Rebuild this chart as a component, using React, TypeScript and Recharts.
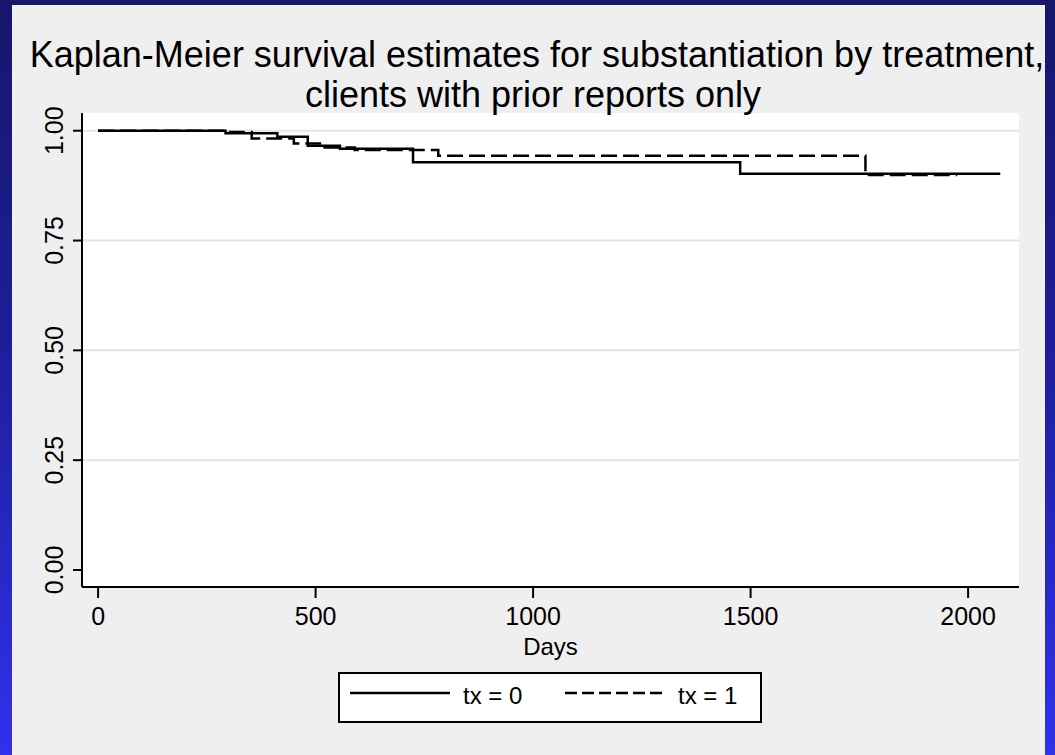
import React from 'react';
import { LineChart, Line, XAxis, YAxis, CartesianGrid, Legend } from 'recharts';

// Kaplan-Meier step points (time in days, survival probability)
const tx0Times = [0, 293, 412, 482, 556, 724, 1476, 2074];
const tx0Surv = [1.0, 0.994, 0.986, 0.966, 0.959, 0.928, 0.902, 0.902];
const tx1Times = [0, 296, 353, 450, 510, 590, 782, 1764, 1975];
const tx1Surv = [1.0, 0.997, 0.982, 0.971, 0.962, 0.956, 0.943, 0.899, 0.899];

const xTicks = [0, 500, 1000, 1500, 2000];
const yTicks = [0, 0.25, 0.5, 0.75, 1];
const gridValues = [0.25, 0.5, 0.75, 1];
const titleLines = [
  'Kaplan-Meier survival estimates for substantiation by treatment,',
  'clients with prior reports only',
];
const xLabel = 'Days';
const seriesNames = ['tx = 0', 'tx = 1'];

const tx0Data = tx0Times.map((t, i) => ({ t, s: tx0Surv[i] }));
const tx1Data = tx1Times.map((t, i) => ({ t, s: tx1Surv[i] }));

const FONT = '"Liberation Sans", Arial, Helvetica, sans-serif';

const YTick = (props: any) => {
  const { x, y, payload } = props;
  return (
    <text
      x={x}
      y={y}
      transform={`rotate(-90, ${x}, ${y})`}
      textAnchor="middle"
      fontFamily={FONT}
      fontSize={25}
      fill="#000"
    >
      {Number(payload.value).toFixed(2)}
    </text>
  );
};

const XTick = (props: any) => {
  const { x, y, payload } = props;
  return (
    <text x={x} y={y} dy="0.71em" textAnchor="middle" fontFamily={FONT} fontSize={25} fill="#000">
      {payload.value}
    </text>
  );
};

const XLabel = (props: any) => {
  const { viewBox } = props;
  const cx = viewBox.x + viewBox.width / 2;
  return (
    <text x={cx} y={viewBox.y + 68} textAnchor="middle" fontFamily={FONT} fontSize={24} fill="#000">
      {xLabel}
    </text>
  );
};

const LegendBox = () => (
  <div
    style={{
      width: 424,
      height: 51,
      boxSizing: 'border-box',
      border: '2px solid #000',
      background: '#fff',
    }}
  >
    <svg width={420} height={47} style={{ display: 'block' }}>
      <line x1={10} x2={110} y1={19} y2={19} stroke="#000" strokeWidth={2.5} />
      <text x={123} y={30} fontFamily={FONT} fontSize={24} fill="#000">
        {seriesNames[0]}
      </text>
      <line x1={225} x2={323} y1={19} y2={19} stroke="#000" strokeWidth={2.5} strokeDasharray="12 5" />
      <text x={338} y={30} fontFamily={FONT} fontSize={24} fill="#000">
        {seriesNames[1]}
      </text>
    </svg>
  </div>
);

export default function App() {
  return (
    <div
      style={{
        position: 'absolute',
        left: 0,
        top: 0,
        width: 1055,
        height: 755,
        overflow: 'hidden',
        background: 'linear-gradient(to bottom, #16166a 0%, #1f1fa0 50%, #3131ee 100%)',
      }}
    >
      <div
        style={{
          position: 'absolute',
          left: 12,
          top: 5,
          width: 1033,
          height: 750,
          background: '#efefef',
        }}
      />
      <div style={{ position: 'absolute', left: 0, top: 0 }}>
        <LineChart
          width={1055}
          height={755}
          margin={{ top: 113, right: 36, bottom: 108, left: 22 }}
        >
          <CartesianGrid
            vertical={false}
            horizontalValues={gridValues}
            stroke="#e4e4e4"
            strokeWidth={2}
            fill="#ffffff"
            fillOpacity={1}
          />
          <XAxis
            type="number"
            dataKey="t"
            domain={[-37, 2117]}
            ticks={xTicks}
            height={60}
            tickSize={11}
            tickMargin={9}
            tick={<XTick />}
            axisLine={{ stroke: '#000', strokeWidth: 2 }}
            tickLine={{ stroke: '#000', strokeWidth: 2 }}
            allowDataOverflow
            label={<XLabel />}
          />
          <YAxis
            type="number"
            domain={[-0.0387, 1.0403]}
            ticks={yTicks}
            width={60}
            tickSize={9}
            tickMargin={10}
            tick={<YTick />}
            axisLine={{ stroke: '#000', strokeWidth: 2 }}
            tickLine={{ stroke: '#000', strokeWidth: 2 }}
            allowDataOverflow
          />
          <Line
            data={tx0Data}
            dataKey="s"
            name={seriesNames[0]}
            type="stepAfter"
            stroke="#000"
            strokeWidth={2.5}
            dot={false}
            activeDot={false}
            isAnimationActive={false}
          />
          <Line
            data={tx1Data}
            dataKey="s"
            name={seriesNames[1]}
            type="stepAfter"
            stroke="#000"
            strokeWidth={2.5}
            strokeDasharray="16 6"
            dot={false}
            activeDot={false}
            isAnimationActive={false}
          />
          <Legend
            layout="horizontal"
            verticalAlign="middle"
            align="center"
            content={<LegendBox />}
            wrapperStyle={{ left: 338, top: 672, width: 424, height: 51 }}
          />
        </LineChart>
      </div>
      <svg
        width={1055}
        height={755}
        style={{ position: 'absolute', left: 0, top: 0, pointerEvents: 'none' }}
      >
        <text x={537} y={67} textAnchor="middle" fontFamily={FONT} fontSize={36} fill="#000">
          {titleLines[0]}
        </text>
        <text x={533} y={107} textAnchor="middle" fontFamily={FONT} fontSize={36} fill="#000">
          {titleLines[1]}
        </text>
      </svg>
    </div>
  );
}
